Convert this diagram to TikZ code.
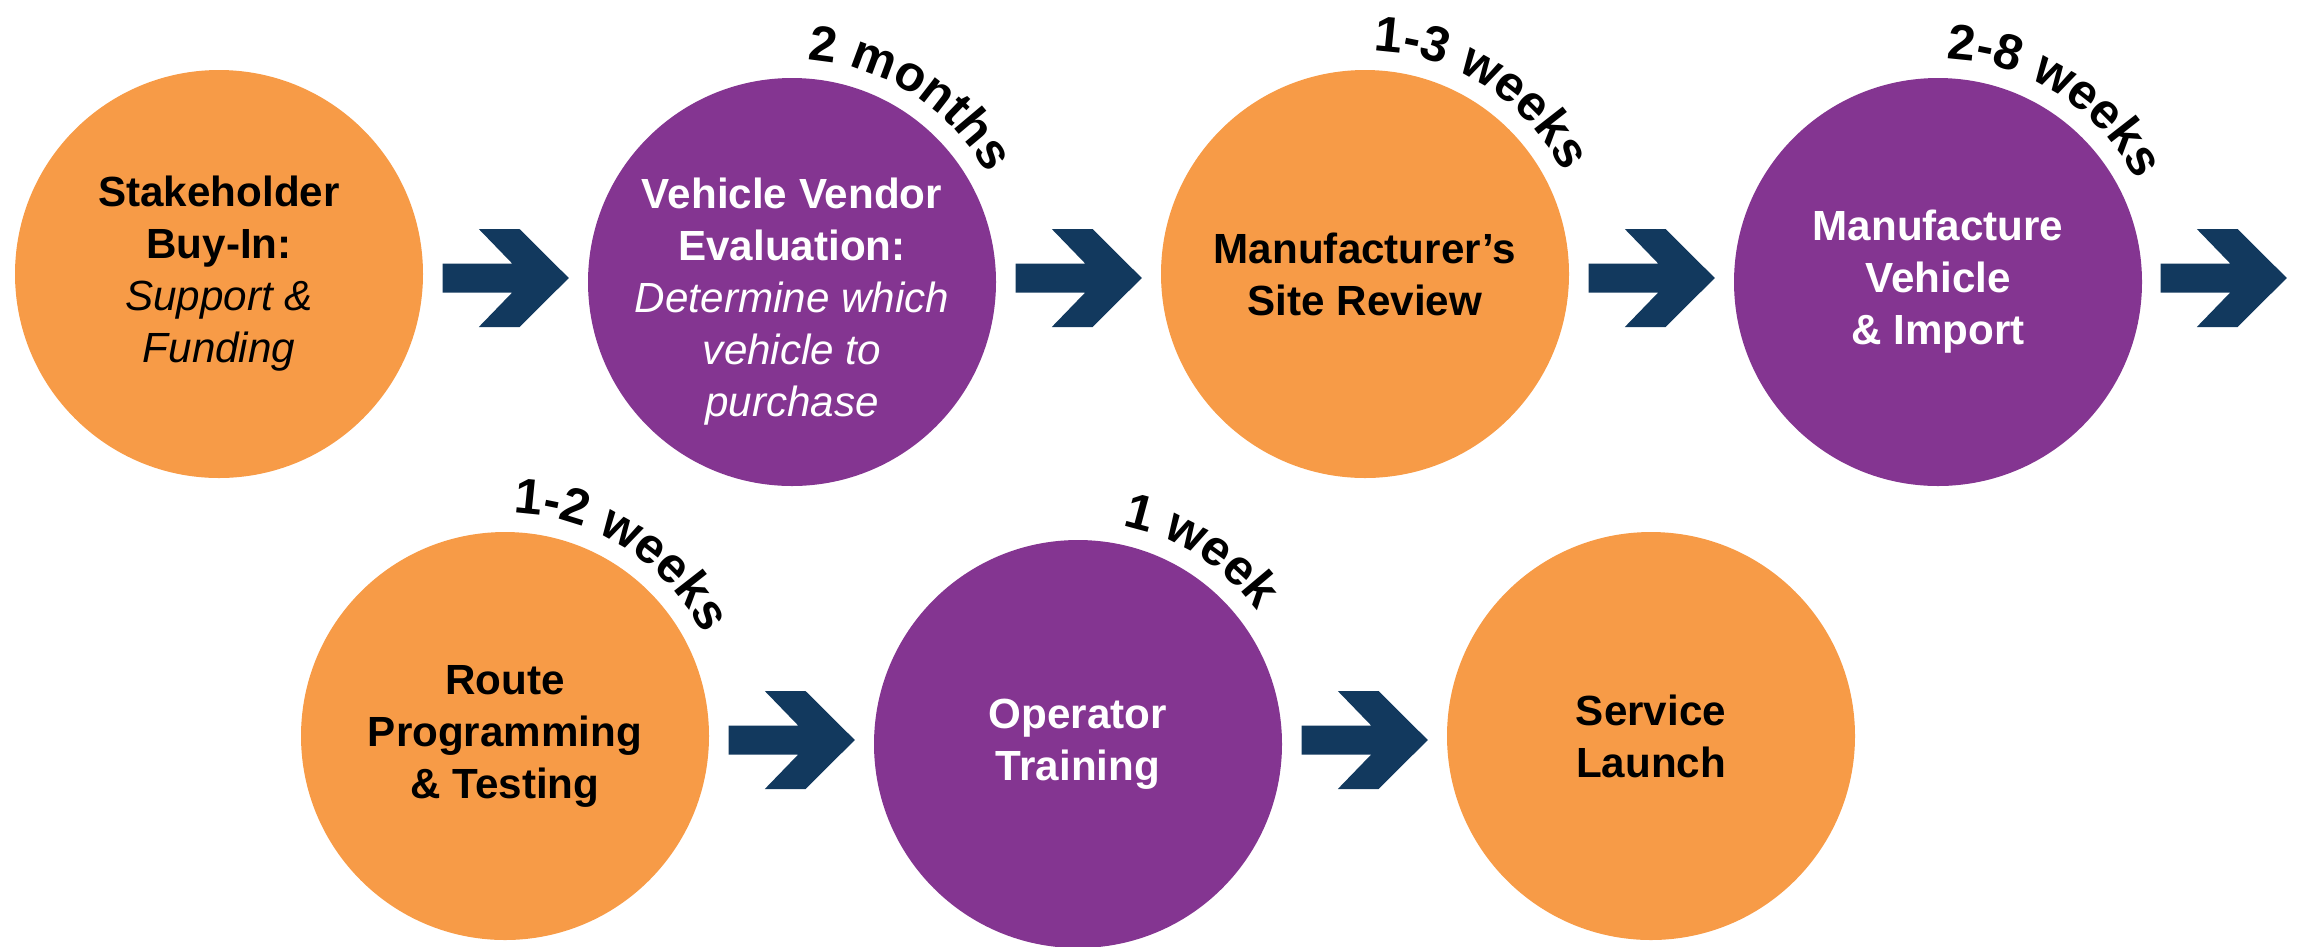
\documentclass[tikz,border=0pt]{standalone}
\usepackage{fontspec}
\setmainfont{Liberation Sans}
\usetikzlibrary{positioning, calc, decorations.text}

\definecolor{phaseorange}{RGB}{247,155,71}
\definecolor{phasepurple}{RGB}{132,53,145}
\definecolor{arrownavy}{RGB}{18,57,94}
\newcommand\durfont{\bfseries\fontsize{14.2}{16}\selectfont}

\begin{document}
\begin{tikzpicture}[node distance=1.65cm,
    phase/.style={circle, minimum size=4.08cm, inner sep=0pt, outer sep=0pt, align=center, font=\fontsize{12}{14.8}\selectfont},
    early/.style={phase, fill=phaseorange, text=black},
    late/.style={phase, fill=phasepurple, text=white},
    duration/.style={decorate, decoration={text along path, text align=center, text={|\durfont|#1}}},
    chevron/.pic={\fill[arrownavy] (-0.63,0.145) -- (0.067,0.145) -- (-0.267,0.49) -- (0.14,0.49) -- (0.633,0)
        -- (0.14,-0.49) -- (-0.267,-0.49) -- (0.067,-0.145) -- (-0.63,-0.145) -- cycle;}]
    \useasboundingbox (0,0) rectangle (22.98,-9.46);

    % Top row
    \node (buyin) [early] at (2.19,-2.74) {\textbf{Stakeholder}\\\textbf{Buy-In:}\\\textit{Support \&}\\\textit{Funding}};
    \node (vendor) [late, right=of buyin, yshift=-0.8mm] {};
    \node (vendortext) [text=white, align=center, font=\fontsize{12}{14.8}\selectfont] at ([yshift=-2mm]vendor.center)
        {\textbf{Vehicle Vendor}\\\textbf{Evaluation:}\\\textit{Determine which}\\\textit{vehicle to}\\\textit{purchase}};
    \node (review) [early, right=of vendor, yshift=0.8mm] {\textbf{Manufacturer’s}\\\textbf{Site Review}};
    \node (import) [late, right=of review, yshift=-0.8mm] {\textbf{Manufacture}\\\textbf{Vehicle}\\\textbf{\& Import}};
    \coordinate (onward) at ([xshift=11.44cm]review.center);

    % Bottom row
    \node (route) [early] at (5.05,-7.36) {\textbf{Route}\\\textbf{Programming}\\\textbf{\& Testing}};
    \node (training) [late, right=of route, yshift=-0.8mm] {\textbf{Operator}\\\textbf{Training}};
    \node (launch) [early, right=of training, yshift=0.8mm] {\textbf{Service}\\\textbf{Launch}};

    % Durations
    \path[duration={2 months}] ([shift={(105:2.23cm)}]vendor.center) arc[start angle=105, end angle=10, radius=2.23cm];
    \path[duration={1-3 weeks}] ([shift={(105:2.23cm)}]review.center) arc[start angle=105, end angle=10, radius=2.23cm];
    \path[duration={2-8 weeks}] ([shift={(105:2.23cm)}]import.center) arc[start angle=105, end angle=10, radius=2.23cm];
    \path[duration={1-2 weeks}] ([shift={(105:2.23cm)}]route.center) arc[start angle=105, end angle=10, radius=2.23cm];
    \path[duration={1 week}] ([shift={(105:2.23cm)}]training.center) arc[start angle=105, end angle=10, radius=2.23cm];

    % Arrows
    \pic at ($(buyin)!0.5!(vendor)$) {chevron};
    \pic at ($(vendor)!0.5!(review)$) {chevron};
    \pic at ($(review)!0.5!(import)$) {chevron};
    \pic at ($(import)!0.5!(onward)$) {chevron};
    \pic at ($(route)!0.5!(training)$) {chevron};
    \pic at ($(training)!0.5!(launch)$) {chevron};
\end{tikzpicture}
\end{document}
